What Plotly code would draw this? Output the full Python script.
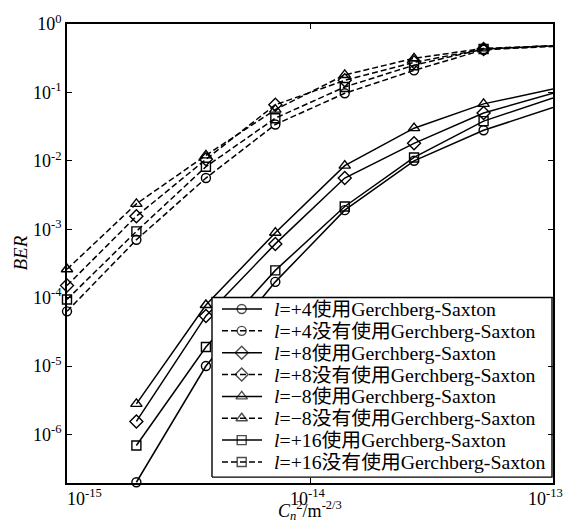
import math
import plotly.graph_objects as go

# ---------------- data ----------------
cn2 = [1.0e-15, 1.93e-15, 3.73e-15, 7.2e-15, 1.39e-14, 2.68e-14, 5.18e-14, 1.0e-13]

# with Gerchberg-Saxton (solid)
ber_p4_gs = [None, 2.0e-7, 1.0e-5, 1.7e-4, 1.9e-3, 1.0e-2, 2.8e-2, 6.0e-2]
ber_p8_gs = [None, 1.55e-6, 5.4e-5, 6.1e-4, 5.6e-3, 1.8e-2, 5.0e-2, 9.7e-2]
ber_m8_gs = [None, 2.8e-6, 7.8e-5, 8.9e-4, 8.5e-3, 3.0e-2, 6.8e-2, 1.12e-1]
ber_p16_gs = [None, 6.9e-7, 1.9e-5, 2.5e-4, 2.15e-3, 1.12e-2, 3.8e-2, 8.3e-2]

# without Gerchberg-Saxton (dashed)
ber_p4_no = [6.3e-5, 7.0e-4, 5.6e-3, 3.4e-2, 9.7e-2, 2.1e-1, 4.2e-1, 4.7e-1]
ber_p8_no = [1.5e-4, 1.55e-3, 1.05e-2, 6.6e-2, 1.5e-1, 2.75e-1, 4.3e-1, 4.8e-1]
ber_m8_no = [2.6e-4, 2.35e-3, 1.2e-2, 5.6e-2, 1.8e-1, 3.15e-1, 4.4e-1, 4.8e-1]
ber_p16_no = [9.4e-5, 9.3e-4, 8.2e-3, 4.2e-2, 1.2e-1, 2.5e-1, 4.3e-1, 4.8e-1]

series_labels = [
    "<i>l</i>=+4使用Gerchberg-Saxton",
    "<i>l</i>=+4没有使用Gerchberg-Saxton",
    "<i>l</i>=+8使用Gerchberg-Saxton",
    "<i>l</i>=+8没有使用Gerchberg-Saxton",
    "<i>l</i>=−8使用Gerchberg-Saxton",
    "<i>l</i>=−8没有使用Gerchberg-Saxton",
    "<i>l</i>=+16使用Gerchberg-Saxton",
    "<i>l</i>=+16没有使用Gerchberg-Saxton",
]
series_values = [ber_p4_gs, ber_p4_no, ber_p8_gs, ber_p8_no,
                 ber_m8_gs, ber_m8_no, ber_p16_gs, ber_p16_no]
series_symbols = ["circle-open", "circle-open", "diamond-open", "diamond-open",
                  "triangle-up-open", "triangle-up-open", "square-open", "square-open"]
series_dash = ["solid", "6px,3px"] * 4

x_tick_vals = [1e-15, 1e-14, 1e-13]
x_tick_text = ["10<sup>-15</sup>", "10<sup>-14</sup>", "10<sup>-13</sup>"]
y_tick_vals = [1e0, 1e-1, 1e-2, 1e-3, 1e-4, 1e-5, 1e-6]
y_tick_text = ["10<sup>0</sup>", "10<sup>-1</sup>", "10<sup>-2</sup>", "10<sup>-3</sup>",
               "10<sup>-4</sup>", "10<sup>-5</sup>", "10<sup>-6</sup>"]

# ---------------- style ----------------
FONT = "Liberation Serif, 'Noto Sans CJK SC', serif"
marker_sizes = {"circle-open": 9, "diamond-open": 10, "triangle-up-open": 10, "square-open": 9}

fig = go.Figure()
for vals, sym, dash in zip(series_values, series_symbols, series_dash):
    fig.add_trace(go.Scatter(
        x=cn2, y=vals, mode="lines+markers",
        line=dict(color="black", width=1.5, dash=dash),
        marker=dict(symbol=sym, size=marker_sizes[sym], color="black",
                    line=dict(width=1.4, color="black")),
        cliponaxis=False, showlegend=False, hoverinfo="skip",
    ))

# ---------------- hand-made legend on an overlay pixel frame ----------------
W, H = 486, 465  # plot area in px
box_x0, box_x1, box_y0, box_y1 = 145, 485, 6, 188
row_y = [176.3 - 22.14 * i for i in range(8)]
samp_x0, samp_x1, samp_xm = 155, 195, 174.7
text_x = 205

fig.add_trace(go.Scatter(
    x=[box_x0, box_x1, box_x1, box_x0, box_x0],
    y=[box_y0, box_y0, box_y1, box_y1, box_y0],
    mode="lines", fill="toself", fillcolor="white",
    line=dict(color="black", width=1.4),
    xaxis="x2", yaxis="y2", showlegend=False, hoverinfo="skip",
))
for i in range(8):
    fig.add_trace(go.Scatter(
        x=[samp_x0, samp_x1], y=[row_y[i], row_y[i]], mode="lines",
        line=dict(color="black", width=1.5, dash=series_dash[i]),
        xaxis="x2", yaxis="y2", showlegend=False, hoverinfo="skip",
    ))
fig.add_trace(go.Scatter(
    x=[samp_xm] * 8, y=row_y, mode="markers",
    marker=dict(symbol=series_symbols, size=[marker_sizes[s] for s in series_symbols],
                color="black", line=dict(width=1.4, color="black")),
    xaxis="x2", yaxis="y2", showlegend=False, hoverinfo="skip", cliponaxis=False,
))

annotations = []
for i, lab in enumerate(series_labels):
    annotations.append(dict(
        x=text_x, y=row_y[i], xref="x2", yref="y2", text=lab, showarrow=False,
        xanchor="left", yanchor="middle", font=dict(family=FONT, size=19.8, color="black"),
    ))

# x tick labels
x_shifts = [(-2, "left"), (-3, "center"), (-8, "center")]
for v, t, (sh, anc) in zip(x_tick_vals, x_tick_text, x_shifts):
    annotations.append(dict(
        x=math.log10(v), y=0, xref="x", yref="paper", text=t, showarrow=False,
        xanchor=anc, yanchor="top", xshift=sh, yshift=-1,
        font=dict(family=FONT, size=18, color="black"),
    ))

# axis titles
annotations.append(dict(
    x=0, y=0.5, xref="paper", yref="paper", text="<i>BER</i>", showarrow=False,
    textangle=-90, xanchor="center", yanchor="middle", xshift=-47,
    font=dict(family=FONT, size=19, color="black"),
))
annotations.append(dict(
    x=0.5, y=0, xref="paper", yref="paper",
    text="<i>C</i><sub><i>n</i></sub><sup>2</sup>/m<sup>-2/3</sup>", showarrow=False,
    xanchor="center", yanchor="middle", yshift=-27,
    font=dict(family=FONT, size=18, color="black"),
))

axis_common = dict(
    showline=True, linecolor="black", linewidth=1.8, mirror="ticks",
    ticks="inside", ticklen=5, tickwidth=1.2, tickcolor="black",
    showgrid=False, zeroline=False,
)

fig.update_layout(
    width=569, height=527,
    margin=dict(l=67, r=16, t=18, b=44),
    paper_bgcolor="white", plot_bgcolor="white",
    font=dict(family=FONT, size=18, color="black"),
    showlegend=False,
    xaxis=dict(type="log", range=[-15, -13], tickvals=x_tick_vals,
               showticklabels=False, **axis_common),
    yaxis=dict(type="log", range=[-6.71, 0], tickvals=y_tick_vals,
               ticktext=y_tick_text, tickfont=dict(family=FONT, size=18),
               **axis_common),
    xaxis2=dict(overlaying="x", range=[0, W], visible=False, anchor="y2"),
    yaxis2=dict(overlaying="y", range=[0, H], visible=False, anchor="x2"),
    annotations=annotations,
)

fig.write_html("out.html", config={"displayModeBar": False},
               post_script="document.body.style.margin='0';")
